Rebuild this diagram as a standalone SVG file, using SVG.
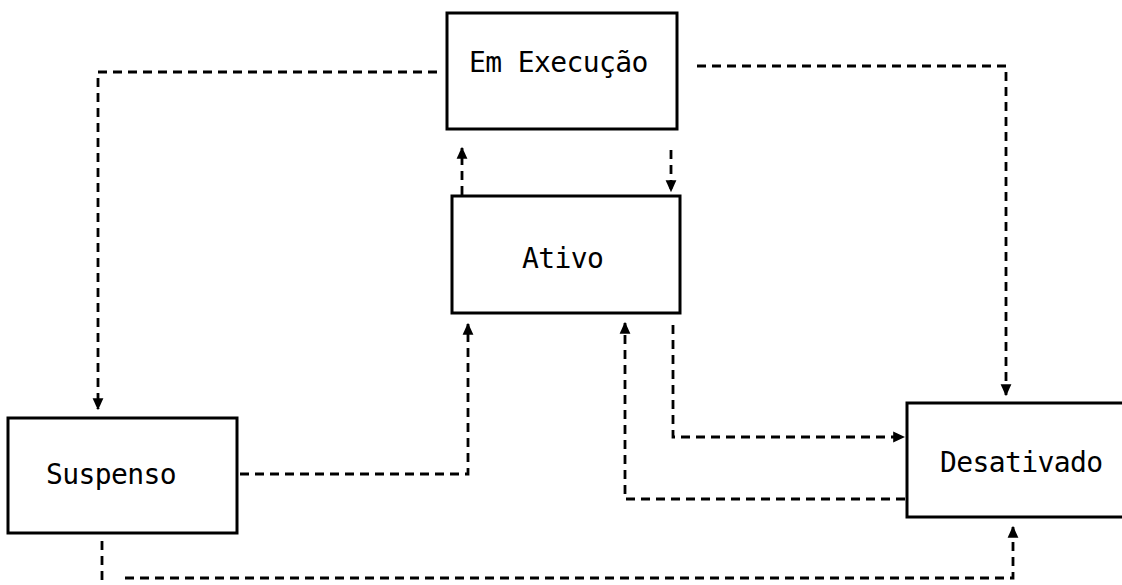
<svg xmlns="http://www.w3.org/2000/svg" width="1122" height="585" viewBox="0 0 1122 585">
<defs>
<marker id="ah" viewBox="0 0 10 10" refX="9" refY="5" markerWidth="12" markerHeight="12" markerUnits="userSpaceOnUse" orient="auto">
<path d="M0,0.5 L10,5 L0,9.5 z" fill="#000"/>
</marker>
<style>
.box{fill:#fff;stroke:#000;stroke-width:3}
.lbl{font-family:"DejaVu Sans Mono","Liberation Mono",monospace;font-size:28px;letter-spacing:-0.6px;fill:#000}
.c{fill:none;stroke:#000;stroke-width:2.8;stroke-dasharray:9 6}
.ca{fill:none;stroke:#000;stroke-width:2.8;stroke-dasharray:9 6;marker-end:url(#ah)}
</style>
</defs>
<rect width="1122" height="585" fill="#fff"/>
<g id="connectors">
<path class="ca" d="M437,72 H98 V409"/>
<path class="ca" d="M697,66 H1006 V395"/>
<path class="ca" d="M462,195 V148"/>
<path class="ca" d="M671,150 V191"/>
<path class="ca" d="M240,474 H468 V324"/>
<path class="ca" d="M673,325 V437 H904"/>
<path class="ca" d="M905,499 H625 V323"/>
<path class="c" d="M102,541 V585"/>
<path class="ca" d="M125,578 H1013 V527"/>
</g>
<g id="em-execucao">
<rect class="box" x="447" y="13" width="230" height="116"/>
<text class="lbl" x="469" y="72">Em Execução</text>
</g>
<g id="ativo">
<rect class="box" x="452" y="196" width="228" height="117"/>
<text class="lbl" x="522" y="268">Ativo</text>
</g>
<g id="suspenso">
<rect class="box" x="8" y="418" width="229" height="115"/>
<text class="lbl" x="46" y="484">Suspenso</text>
</g>
<g id="desativado">
<rect class="box" x="907" y="403" width="225" height="114"/>
<text class="lbl" x="940" y="472">Desativado</text>
</g>
</svg>
